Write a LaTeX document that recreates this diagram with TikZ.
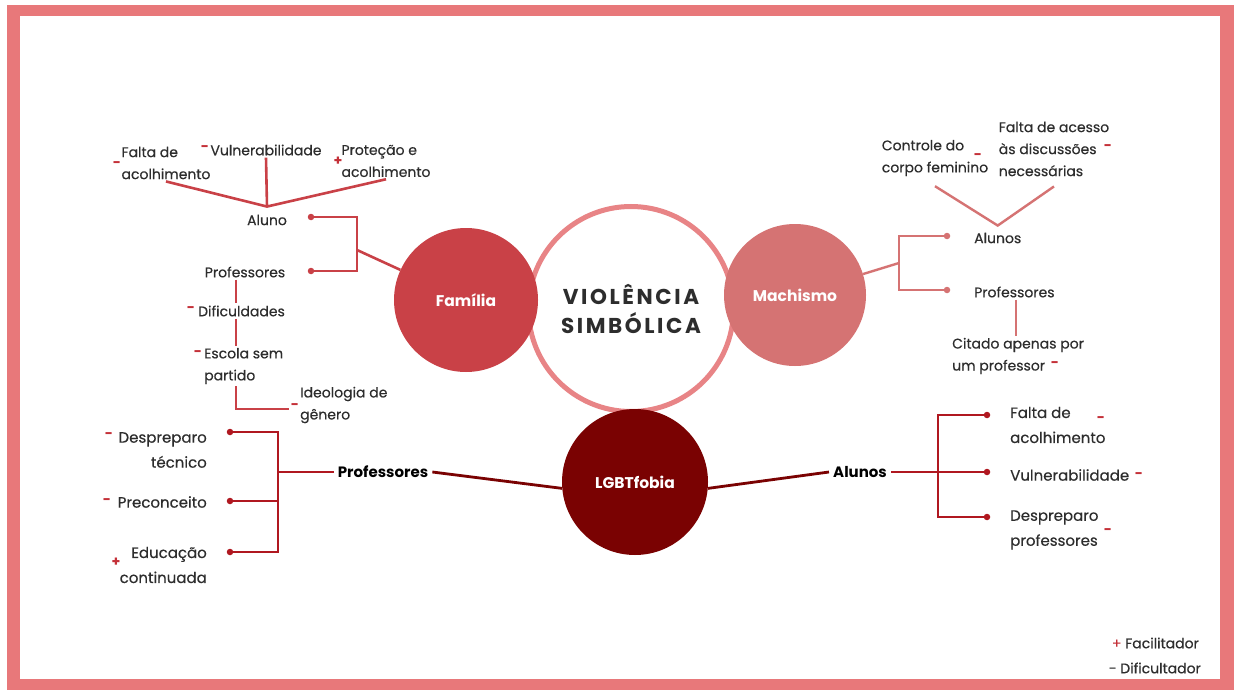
\documentclass[tikz,border=0pt]{standalone}
\usepackage{fontspec}
\setmainfont{Poppins}[UprightFeatures={FakeBold=0.35}]
\usepackage{tikz}

\definecolor{frame}{RGB}{232,120,122}
\definecolor{ring}{RGB}{232,132,134}
\definecolor{fam}{RGB}{201,65,71}
\definecolor{mach}{RGB}{213,115,115}
\definecolor{lgbt}{RGB}{122,2,2}
\definecolor{lgbtbr}{RGB}{176,24,32}
\definecolor{signred}{RGB}{196,48,56}
\definecolor{txt}{RGB}{45,45,45}

\newcommand\lblfont{\fontsize{14}{22}\selectfont}
\newcommand\widefont{\fontsize{15}{25}\selectfont}
\newcommand\boldlblfont{\fontsize{15}{18}\selectfont\bfseries}
\newcommand\titlefont{\fontsize{21.5}{29}\selectfont\bfseries\addfontfeature{LetterSpace=12}}

\begin{document}
\begin{tikzpicture}[x=1pt,y=-1pt,
    lbl/.style={font=\lblfont, text=txt, inner sep=2pt, align=left},
    lblw/.style={font=\widefont, text=txt, inner sep=2pt},
    boldlbl/.style={font=\boldlblfont, text=black, inner sep=4pt},
    sgn/.style={font=\fontsize{14}{14}\selectfont\bfseries, text=signred, inner sep=0pt},
    topic/.style={circle, minimum size=#1, inner sep=0pt, text=white, font=\fontsize{15.5}{18}\selectfont\bfseries},
    dot/.style={circle, fill=#1, minimum size=6.5pt, inner sep=0pt},
    famline/.style={draw=fam, line width=2.6pt},
    machline/.style={draw=mach, line width=2.4pt},
    lgbtline/.style={draw=lgbt, line width=2.8pt},
    lgbtbrline/.style={draw=lgbtbr, line width=2.6pt}]

\useasboundingbox (0,0) rectangle (1234,690);

%Frame
\fill[frame] (7,5) rectangle (1234,690);
\fill[white] (20,16) rectangle (1220,679);

%Shape: Circle (centre)
\node[circle, draw=ring, line width=5pt, minimum size=205pt, inner sep=0pt,
      font=\titlefont, text=txt, align=center] (vs) at (631,309) {VIOLÊNCIA\\SIMBÓLICA};
%Shape: Circle (topics)
\node[topic=144pt, fill=fam] (fam) at (466,300) {Família};
\node[topic=142pt, fill=mach] (mach) at (795,295) {Machismo};
\node[topic=146pt, fill=lgbt] (lgbt) at (635,482) {LGBTfobia};

%Familia - branches
\coordinate (famj) at (357,250);
\coordinate (famx) at (236,0);
\node[dot=fam] (fad1) at (311,217) {};
\node[dot=fam] (fad2) at (311,271) {};
\draw[famline] (fam) -- (famj);
\draw[famline] (fad1) -| (famj) |- (fad2);

\node[lbl] (aluno) at (267,220) {Aluno};
\node[lbl] (acolh) at (166,163) {Falta de\\acolhimento};
\node[lbl] (vuln) at (266,150) {Vulnerabilidade};
\node[lbl] (prot) at (386,161) {Proteção e\\acolhimento};
\coordinate (alj) at ([yshift=6pt]aluno.north);
\draw[famline] (acolh.south) -- (alj) -- (prot.south);
\draw[famline] (vuln.south) -- (alj);
\node[sgn] (s1) at (117,165) {-};
\node[sgn] (s2) at (205,149) {-};
\node[sgn] (s3) at (338,161) {+};

\node[lbl] (fprof) at (245,272) {Professores};
\node[lbl, anchor=west] (dif) at (196,311) {Dificuldades};
\node[lbl, anchor=west] (esc) at (202,366) {Escola sem\\partido};
\node[lbl, anchor=west] (ideo) at (298,405) {Ideologia de\\gênero};
\draw[famline] (fprof.south -| famx) -- (dif.north -| famx);
\draw[famline] (dif.south -| famx) -- (esc.north -| famx);
\draw[famline] (esc.south -| famx) |- ([xshift=-9pt,yshift=-4pt]ideo.west);
\node[sgn] (s4) at (191,310) {-};
\node[sgn] (s5) at (198,354) {-};
\node[sgn] (s6) at (295,407) {-};

%Machismo - branches
\coordinate (machj) at (899,263);
\coordinate (machx) at (1016,0);
\node[dot=mach] (mad1) at (947,236) {};
\node[dot=mach] (mad2) at (947,290) {};
\draw[machline] (mach) -- (machj);
\draw[machline] (mad1) -| (machj) |- (mad2);

\node[lbl, anchor=west] (malun) at (972,238) {Alunos};
\node[lbl, anchor=west] (maprof) at (972,292) {Professores};
\node[lbl, anchor=west] (cit) at (950,356) {Citado apenas por\\um professor};
\draw[machline] (maprof.south -| machx) -- (cit.north -| machx);
\node[lbl] (ctrl) at (935,158) {Controle do\\corpo feminino};
\node[lbl] (acess) at (1054,149) {Falta de acesso\\às discussões\\necessárias};
\coordinate (mav) at ([yshift=5pt]malun.north);
\draw[machline] ([yshift=-8pt]ctrl.south) -- (mav) -- ([yshift=-8pt]acess.south);
\node[sgn] (s7) at (978,157) {-};
\node[sgn] (s8) at (1108,148) {-};
\node[sgn] (s9) at (1055,365) {-};

%LGBTfobia - branches
\node[boldlbl] (lprof) at (383,472) {Professores};
\node[boldlbl] (lalun) at (860,472) {Alunos};
\draw[lgbtline] (lprof.east) -- (lgbt.185);
\draw[lgbtline] (lgbt.355) -- (lalun.west);

\coordinate (lpj) at (278,472);
\node[dot=lgbtbr] (lpd1) at (230,432) {};
\node[dot=lgbtbr] (lpd2) at (230,501) {};
\node[dot=lgbtbr] (lpd3) at (230,552) {};
\draw[lgbtbrline] (lprof.west) -- (lpj);
\draw[lgbtbrline] (lpd1) -| (lpj) |- (lpd3);
\draw[lgbtbrline] (lpd2) -- (lpd2 -| lpj);
\node[lblw, anchor=east, align=right] (desp) at (209,450) {Despreparo\\técnico};
\node[lblw, anchor=east] (prec) at (209,502) {Preconceito};
\node[lblw, anchor=east, align=right] (educ) at (209,565) {Educação\\continuada};
\node[sgn] (s10) at (109,436) {-};
\node[sgn] (s11) at (107,502) {-};
\node[sgn] (s12) at (116,562) {+};

\coordinate (laj) at (938,472);
\node[dot=lgbtbr] (lad1) at (987,415) {};
\node[dot=lgbtbr] (lad2) at (987,472) {};
\node[dot=lgbtbr] (lad3) at (987,517) {};
\draw[lgbtbrline] (lalun.east) -- (lad2);
\draw[lgbtbrline] (lad1) -| (laj) |- (lad3);
\node[lblw, anchor=west, align=left] (rfalta) at (1008,425) {Falta de\\acolhimento};
\node[lblw, anchor=west] (rvul) at (1008,475) {Vulnerabilidade};
\node[lblw, anchor=west, align=left] (rdesp) at (1008,530) {Despreparo\\professores};
\node[sgn] (s13) at (1101,420) {-};
\node[sgn] (s14) at (1139,476) {-};
\node[sgn] (s15) at (1108,532) {-};

%Legend
\node[lbl, anchor=east] (leg1) at (1201,643) {\textcolor{signred}{+} Facilitador};
\node[lbl, anchor=east] (leg2) at (1203,668) {- Dificultador};

\end{tikzpicture}
\end{document}
